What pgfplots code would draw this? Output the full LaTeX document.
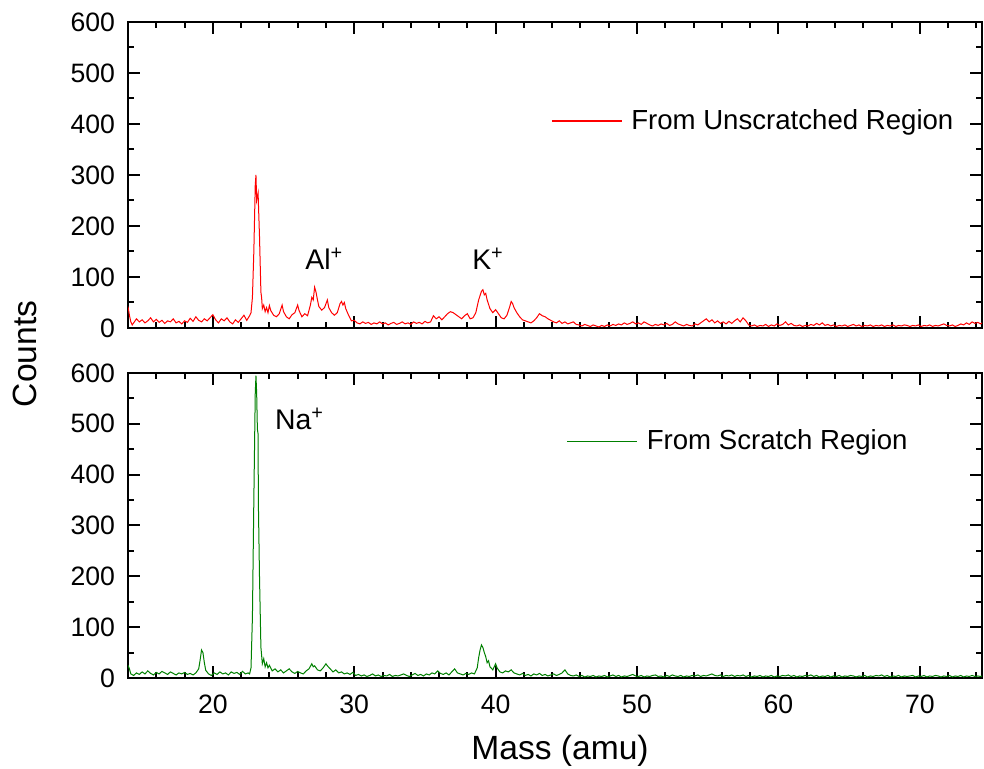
\documentclass[border=0pt]{standalone}
\usepackage{fontspec}
\setmainfont{Liberation Sans}
\usepackage{pgfplots}
\pgfplotsset{compat=1.18}
\definecolor{specred}{RGB}{255,0,0}
\definecolor{specgreen}{RGB}{0,128,0}

\pgfplotsset{
  panel/.style={
    width=427pt, scale only axis,
    xmin=14, xmax=74.4, ymin=0, ymax=600,
    xtick={20,30,...,70}, minor xtick={16,18,...,74},
    ytick={0,100,...,600}, minor ytick={50,150,...,550},
    tick align=inside, major tick length=6pt, minor tick length=3pt,
    every tick/.style={black, line width=1pt},
    axis line style={line width=1.2pt},
    /pgf/number format/assume math mode=true,
    tick label style={font=\fontsize{13.3}{15}\selectfont},
    yticklabel style={xshift=-3pt},
    xticklabel style={yshift=-5pt},
    legend style={draw=none, fill=none, inner sep=0pt,
      font=\fontsize{13.8}{16}\selectfont},
    legend image code/.code={\draw[#1, line width=0.6pt] (0pt,0pt) -- (35pt,0pt); \path (37.5pt,0pt);},
    clip=true,
  },
}

\begin{document}
\begin{tikzpicture}
\useasboundingbox (-64pt,-45.5pt) rectangle (428pt,339pt);

% upper panel: unscratched region
\begin{axis}[panel, at={(0pt,175pt)}, height=153pt, xticklabels={},
    legend style={at={(axis cs:43.9,406)}, anchor=west}]
\addplot[specred, line width=0.5pt] coordinates {
(14.0,42)(14.1,25)(14.2,12)(14.3,6)(14.4,10)(14.6,18)(14.8,12)(15.0,16)(15.2,10)(15.4,14)
(15.6,20)(15.8,12)(16.0,17)(16.2,11)(16.4,15)(16.6,9)(16.8,14)(17.0,12)(17.2,18)(17.4,10)
(17.6,13)(17.8,8)(18.0,14)(18.2,11)(18.4,19)(18.6,13)(18.8,22)(19.0,15)(19.2,12)(19.4,18)
(19.6,14)(19.8,20)(20.0,26)(20.2,16)(20.4,10)(20.6,18)(20.8,14)(21.0,20)(21.2,12)(21.4,8)
(21.6,16)(21.8,11)(22.0,18)(22.2,25)(22.4,15)(22.6,24)(22.7,30)(22.8,60)(22.9,150)(23.0,280)
(23.05,300)(23.1,250)(23.2,265)(23.3,180)(23.4,70)(23.45,60)(23.5,38)(23.6,45)(23.7,32)(23.8,40)
(23.9,30)(24.0,44)(24.1,34)(24.3,25)(24.5,22)(24.7,28)(24.9,45)(25.0,32)(25.2,22)(25.4,18)
(25.6,26)(25.8,30)(26.0,45)(26.1,34)(26.3,22)(26.5,28)(26.7,24)(26.9,45)(27.0,60)(27.1,55)
(27.2,80)(27.3,70)(27.4,55)(27.5,42)(27.7,35)(27.9,40)(28.1,55)(28.2,40)(28.4,30)(28.6,25)
(28.8,30)(29.0,48)(29.1,52)(29.2,45)(29.3,50)(29.4,38)(29.6,25)(29.8,14)(30.0,15)(30.2,10)
(30.4,8)(30.6,12)(30.8,9)(31.0,11)(31.2,7)(31.4,10)(31.6,8)(31.8,12)(32.0,8)(32.2,10)
(32.4,6)(32.6,9)(32.8,11)(33.0,7)(33.2,9)(33.4,12)(33.6,8)(33.8,10)(34.0,7)(34.2,12)
(34.4,9)(34.6,11)(34.8,8)(35.0,13)(35.2,10)(35.4,12)(35.6,24)(35.8,18)(36.0,22)(36.2,16)
(36.4,22)(36.6,28)(36.8,32)(37.0,30)(37.2,26)(37.4,22)(37.6,18)(37.8,24)(38.0,28)(38.2,18)
(38.4,20)(38.6,30)(38.8,55)(39.0,72)(39.1,75)(39.2,65)(39.3,68)(39.4,55)(39.6,38)(39.8,30)
(40.0,36)(40.2,28)(40.4,20)(40.6,18)(40.8,25)(41.0,42)(41.1,52)(41.2,48)(41.3,40)(41.5,30)
(41.7,22)(41.9,16)(42.1,14)(42.3,12)(42.5,10)(42.7,14)(42.9,20)(43.1,28)(43.3,24)(43.5,22)
(43.7,18)(43.9,15)(44.1,12)(44.3,10)(44.5,14)(44.7,9)(44.9,12)(45.1,8)(45.3,10)(45.5,12)
(45.7,7)(45.9,6)(46.1,4)(46.3,7)(46.5,5)(46.7,3)(46.9,6)(47.1,4)(47.3,2)(47.5,5)
(47.7,3)(47.9,6)(48.1,4)(48.3,7)(48.5,5)(48.7,8)(48.9,6)(49.1,10)(49.3,7)(49.5,9)
(49.7,12)(49.9,8)(50.1,10)(50.3,7)(50.5,12)(50.7,9)(50.9,6)(51.1,4)(51.3,7)(51.5,5)
(51.7,8)(51.9,6)(52.1,9)(52.3,5)(52.5,7)(52.7,12)(52.9,8)(53.1,6)(53.3,4)(53.5,7)
(53.7,5)(53.9,4)(54.1,8)(54.3,6)(54.5,10)(54.7,14)(54.9,18)(55.1,12)(55.3,16)(55.5,10)
(55.7,14)(55.9,9)(56.1,12)(56.3,8)(56.5,13)(56.7,9)(56.9,14)(57.1,18)(57.3,12)(57.5,20)
(57.7,14)(57.9,6)(58.1,4)(58.3,6)(58.5,3)(58.7,5)(58.9,4)(59.1,7)(59.3,3)(59.5,6)
(59.7,4)(59.9,8)(60.1,5)(60.3,7)(60.5,12)(60.7,6)(60.9,9)(61.1,5)(61.3,4)(61.5,6)
(61.7,3)(61.9,5)(62.1,4)(62.3,7)(62.5,5)(62.7,9)(62.9,6)(63.1,10)(63.3,5)(63.5,7)
(63.7,4)(63.9,6)(64.1,3)(64.3,5)(64.5,4)(64.7,6)(64.9,3)(65.1,5)(65.3,7)(65.5,4)
(65.7,6)(65.9,3)(66.1,5)(66.3,4)(66.5,6)(66.7,3)(66.9,5)(67.1,4)(67.3,6)(67.5,3)
(67.7,5)(67.9,4)(68.1,6)(68.3,3)(68.5,5)(68.7,4)(68.9,6)(69.1,5)(69.3,3)(69.5,5)
(69.7,4)(69.9,6)(70.1,3)(70.3,5)(70.5,4)(70.7,6)(70.9,3)(71.1,5)(71.3,4)(71.5,6)
(71.7,8)(71.9,5)(72.1,4)(72.3,6)(72.5,3)(72.7,5)(72.9,8)(73.1,6)(73.3,10)(73.5,7)
(73.7,12)(73.9,9)(74.1,11)(74.3,8)(74.4,10)
};
\addlegendentry{From Unscratched Region}
\node[anchor=base west, font=\fontsize{14.2}{16}\selectfont] at (axis cs:26.05,114) {Al\textsuperscript{+}};
\node[anchor=base west, font=\fontsize{14.2}{16}\selectfont] at (axis cs:37.85,114) {K\textsuperscript{+}};
\end{axis}

% lower panel: scratch region
\begin{axis}[panel, at={(0pt,0pt)}, height=152.5pt,
    legend style={at={(axis cs:45.0,466)}, anchor=west}]
\addplot[specgreen, line width=0.5pt] coordinates {
(14.0,25)(14.1,18)(14.2,8)(14.4,5)(14.6,10)(14.8,7)(15.0,12)(15.2,8)(15.4,14)(15.6,9)
(15.8,6)(16.0,11)(16.2,8)(16.4,13)(16.6,10)(16.8,7)(17.0,12)(17.2,9)(17.4,6)(17.6,10)
(17.8,8)(18.0,11)(18.2,7)(18.4,9)(18.6,6)(18.8,10)(19.0,18)(19.1,35)(19.2,55)(19.3,50)
(19.4,30)(19.5,15)(19.7,8)(19.9,5)(20.1,10)(20.3,7)(20.5,12)(20.7,8)(20.9,10)(21.1,6)
(21.3,12)(21.5,9)(21.7,11)(21.9,7)(22.1,13)(22.3,8)(22.5,10)(22.6,8)(22.7,20)(22.8,120)
(22.9,350)(23.0,560)(23.05,595)(23.1,560)(23.15,490)(23.2,480)(23.22,345)(23.3,200)(23.4,60)(23.45,45)
(23.5,28)(23.6,38)(23.7,22)(23.8,30)(23.9,20)(24.0,25)(24.2,14)(24.4,18)(24.6,12)(24.8,16)
(25.0,10)(25.2,14)(25.4,18)(25.6,12)(25.8,9)(26.0,13)(26.2,10)(26.4,8)(26.6,14)(26.8,18)
(27.0,28)(27.1,22)(27.2,24)(27.4,16)(27.6,14)(27.8,20)(28.0,28)(28.1,24)(28.3,18)(28.5,12)
(28.7,16)(28.9,10)(29.1,12)(29.3,8)(29.5,10)(29.7,7)(29.9,11)(30.1,5)(30.3,7)(30.5,4)
(30.7,6)(30.9,3)(31.1,5)(31.3,8)(31.5,4)(31.7,6)(31.9,3)(32.1,5)(32.3,4)(32.5,7)
(32.7,3)(32.9,5)(33.1,4)(33.3,6)(33.5,8)(33.7,5)(33.9,3)(34.1,6)(34.3,9)(34.5,5)
(34.7,7)(34.9,4)(35.1,8)(35.3,6)(35.5,10)(35.7,8)(35.9,14)(36.1,9)(36.3,7)(36.5,10)
(36.7,6)(36.9,12)(37.1,18)(37.3,10)(37.5,8)(37.7,6)(37.9,9)(38.1,7)(38.3,10)(38.5,8)
(38.7,20)(38.8,40)(38.9,55)(39.0,65)(39.1,60)(39.2,50)(39.3,42)(39.4,30)(39.5,34)(39.6,22)
(39.8,16)(40.0,28)(40.1,20)(40.3,12)(40.5,10)(40.7,14)(40.9,12)(41.1,16)(41.3,10)(41.5,8)
(41.7,6)(41.9,9)(42.1,5)(42.3,7)(42.5,4)(42.7,8)(42.9,6)(43.1,9)(43.3,5)(43.5,7)
(43.7,4)(43.9,6)(44.1,8)(44.3,5)(44.5,7)(44.7,10)(44.9,16)(45.1,8)(45.3,5)(45.5,4)
(45.7,6)(45.9,3)(46.1,5)(46.3,2)(46.5,4)(46.7,3)(46.9,5)(47.1,2)(47.3,4)(47.5,3)
(47.7,5)(47.9,2)(48.1,4)(48.3,6)(48.5,3)(48.7,5)(48.9,2)(49.1,4)(49.3,3)(49.5,5)
(49.7,7)(49.9,4)(50.1,3)(50.3,5)(50.5,2)(50.7,4)(50.9,3)(51.1,5)(51.3,6)(51.5,3)
(51.7,4)(51.9,2)(52.1,5)(52.3,3)(52.5,6)(52.7,4)(52.9,3)(53.1,5)(53.3,2)(53.5,4)
(53.7,3)(53.9,5)(54.1,4)(54.3,6)(54.5,3)(54.7,5)(54.9,4)(55.1,6)(55.3,8)(55.5,5)
(55.7,4)(55.9,6)(56.1,3)(56.3,5)(56.5,4)(56.7,6)(56.9,3)(57.1,5)(57.3,4)(57.5,6)
(57.7,3)(57.9,5)(58.1,2)(58.3,4)(58.5,3)(58.7,5)(58.9,2)(59.1,4)(59.3,3)(59.5,5)
(59.7,2)(59.9,4)(60.1,3)(60.3,5)(60.5,4)(60.7,6)(60.9,3)(61.1,5)(61.3,2)(61.5,4)
(61.7,3)(61.9,5)(62.1,4)(62.3,6)(62.5,3)(62.7,5)(62.9,2)(63.1,4)(63.3,3)(63.5,5)
(63.7,2)(63.9,4)(64.1,3)(64.3,5)(64.5,2)(64.7,4)(64.9,3)(65.1,5)(65.3,4)(65.5,2)
(65.7,4)(65.9,3)(66.1,5)(66.3,2)(66.5,4)(66.7,3)(66.9,5)(67.1,4)(67.3,6)(67.5,3)
(67.7,5)(67.9,2)(68.1,4)(68.3,3)(68.5,5)(68.7,2)(68.9,4)(69.1,3)(69.5,5)(69.7,2)
(69.9,4)(70.1,3)(70.3,5)(70.5,2)(70.7,4)(70.9,3)(71.1,5)(71.3,4)(71.5,2)(71.7,4)
(71.9,3)(72.1,5)(72.3,2)(72.5,4)(72.7,3)(72.9,5)(73.1,2)(73.3,4)(73.5,3)(73.7,5)
(73.9,3)(74.1,4)(74.3,3)(74.4,4)
};
\addlegendentry{From Scratch Region}
\node[anchor=base west, font=\fontsize{14.2}{16}\selectfont] at (axis cs:23.9,488) {Na\textsuperscript{+}};
\end{axis}

\node[rotate=90, font=\fontsize{16.8}{19}\selectfont] at (-51.5pt,162pt) {Counts};
\node[font=\fontsize{16.8}{19}\selectfont] at (216pt,-36.5pt) {Mass (amu)};
\end{tikzpicture}
\end{document}
